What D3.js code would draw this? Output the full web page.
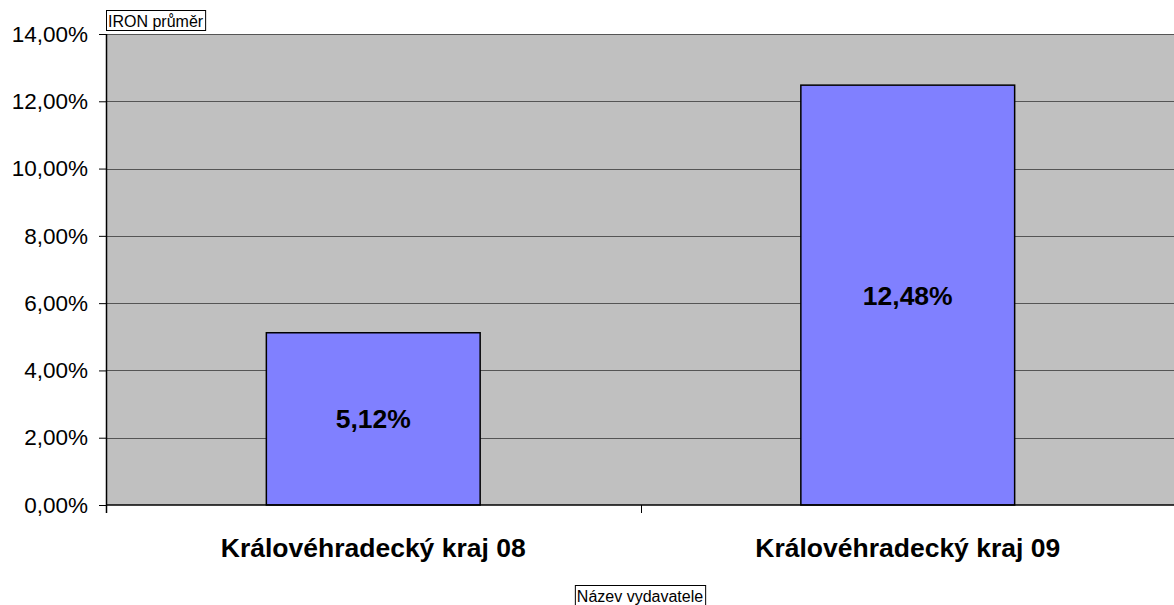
<!DOCTYPE html>
<meta charset="utf-8">
<style>
body { margin: 0; background: #fff; font-family: "Liberation Sans", Arial, sans-serif; }
.tick text { font-family: "Liberation Sans", Arial, sans-serif; }
</style>
<body>
<script src="https://d3js.org/d3.v7.min.js"></script>
<script>
// chart values
var categories = ["Královéhradecký kraj 08", "Královéhradecký kraj 09"];
var values = [0.0512, 0.1248];
var yTicks = [0, 0.02, 0.04, 0.06, 0.08, 0.10, 0.12, 0.14];
var yTitle = "IRON průměr";
var xTitle = "Název vydavatele";

var W = 1174, H = 605;
var margin = {top: 34, right: 0, bottom: 100, left: 106};
var width = 1175 - margin.left,
    height = 505 - margin.top;

var pct = function(v) { return d3.format(".2f")(v * 100).replace(".", ",") + "%"; };

var svg = d3.select("body").append("svg")
    .attr("width", W).attr("height", H);
var g = svg.append("g").attr("transform", "translate(" + margin.left + "," + margin.top + ")");

var x = d3.scaleBand().domain(categories).range([0, width]).paddingInner(0.6).paddingOuter(0.3);
var xb = d3.scaleBand().domain(categories).range([0, width]);
var y = d3.scaleLinear().domain([0, 0.14]).range([height, 0]);

// plot background
g.append("rect").attr("width", width).attr("height", height).attr("fill", "#c0c0c0");

// gridlines
g.selectAll(".grid").data(yTicks.slice(1)).enter().append("line")
    .attr("x1", 0).attr("x2", width)
    .attr("y1", function(d) { return Math.round(y(d)) + 0.5; })
    .attr("y2", function(d) { return Math.round(y(d)) + 0.5; })
    .attr("stroke", "#555").attr("stroke-width", 1);

// bars
g.selectAll(".bar").data(values).enter().append("rect")
    .attr("x", function(d, i) { return x(categories[i]); })
    .attr("y", function(d) { return y(d); })
    .attr("width", x.bandwidth())
    .attr("height", function(d) { return height - y(d); })
    .attr("fill", "#8080ff").attr("stroke", "#000").attr("stroke-width", 1.5);

// data labels
g.selectAll(".lbl").data(values).enter().append("text")
    .attr("x", function(d, i) { return x(categories[i]) + x.bandwidth() / 2; })
    .attr("y", function(d) { return (y(d) + height) / 2; })
    .attr("dy", "0.36em")
    .attr("text-anchor", "middle")
    .style("font-size", "26.5px").style("font-weight", "bold")
    .text(pct);

// y axis
var yAxis = g.append("g")
    .call(d3.axisLeft(y).tickValues(yTicks).tickFormat(pct).tickSize(7).tickPadding(11));
yAxis.select(".domain").attr("d", "M0.5,0V" + (height + 8)).attr("stroke", "#000").attr("stroke-width", 1.5);
yAxis.selectAll("text").style("font-size", "22.5px").attr("fill", "#000");

// x axis
var bounds = [0, width / 2, width];
g.append("line").attr("x1", 0).attr("x2", width).attr("y1", height).attr("y2", height)
    .attr("stroke", "#000").attr("stroke-width", 1.5);
g.selectAll(".xt").data(bounds).enter().append("line")
    .attr("x1", function(d) { return Math.round(d) + 0.5; })
    .attr("x2", function(d) { return Math.round(d) + 0.5; })
    .attr("y1", height).attr("y2", height + 8)
    .attr("stroke", "#000");
g.selectAll(".xl").data(categories).enter().append("text")
    .attr("x", function(d) { return xb(d) + xb.bandwidth() / 2; })
    .attr("y", height + 52)
    .attr("text-anchor", "middle")
    .style("font-size", "26.5px").style("font-weight", "bold")
    .text(function(d) { return d; });

// axis titles in boxes
function boxTitle(txt, cx, cy, fs, anchorLeft) {
    var box = svg.append("rect");
    var t = svg.append("text").attr("y", cy).attr("dy", "0.35em")
        .style("font-size", fs + "px").text(txt);
    var w = t.node().getComputedTextLength();
    var left = anchorLeft ? cx : cx - w / 2 - 2;
    t.attr("x", left + 2);
    box.attr("x", left + 0.5).attr("y", cy - fs / 2 - 2.5)
        .attr("width", w + 4).attr("height", fs + 4)
        .attr("fill", "#fff").attr("stroke", "#000");
}
boxTitle(yTitle, 106, 21, 16, true);
boxTitle(xTitle, 640, 596, 16, false);
</script>
</body>
